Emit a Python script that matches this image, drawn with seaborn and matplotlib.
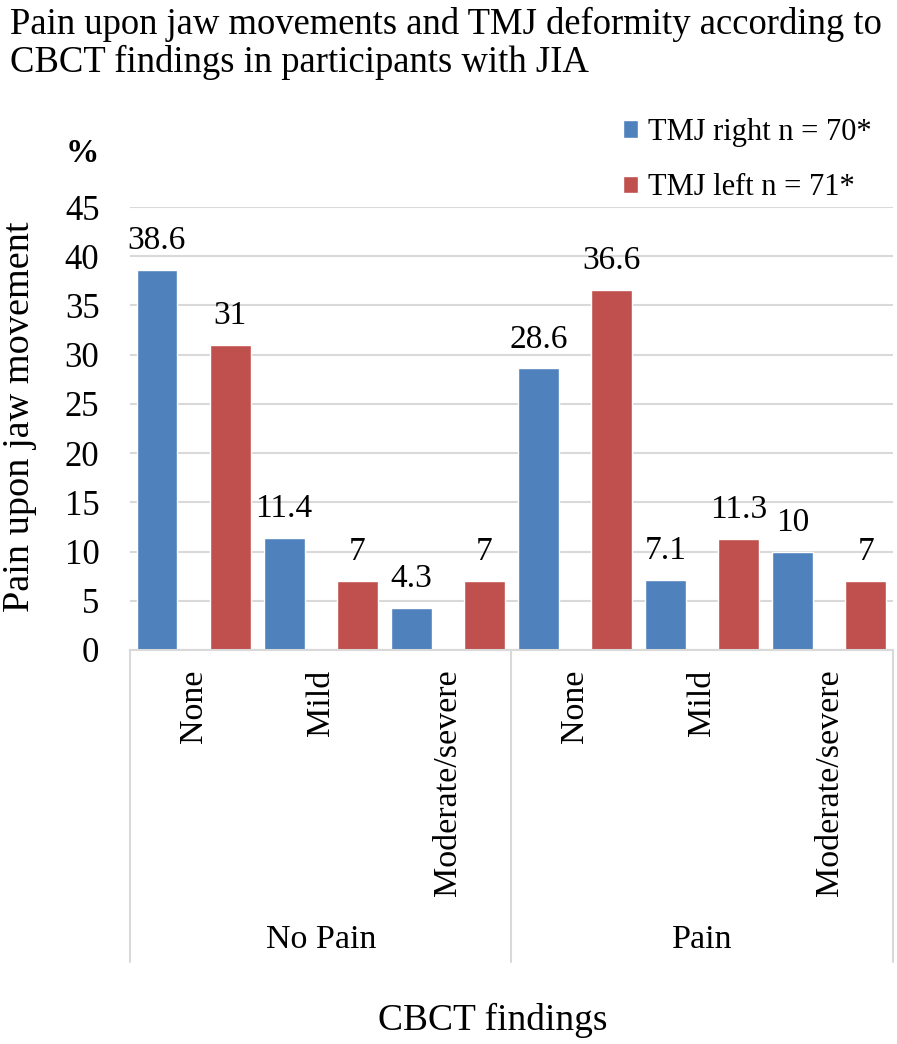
import pandas as pd
import matplotlib
matplotlib.use("Agg")
import matplotlib.pyplot as plt
import seaborn as sns

# Data
pain_groups = ["No Pain", "Pain"]
findings = ["None", "Mild", "Moderate/severe"]
tmj_right = [38.6, 11.4, 4.3, 28.6, 7.1, 10]
tmj_left = [31, 7, 7, 36.6, 11.3, 7]
series_names = ["TMJ right n = 70*", "TMJ left n = 71*"]
colors = ["#4F81BD", "#C0504D"]

cats = [f"{g}|{f}" for g in pain_groups for f in findings]
df = pd.DataFrame({
    "cat": cats * 2,
    "pct": tmj_right + tmj_left,
    "side": [series_names[0]] * len(cats) + [series_names[1]] * len(cats),
})

sns.set_style("white")
plt.rcParams["font.family"] = ["Liberation Serif", "DejaVu Serif"]
for k in ["text.color", "axes.labelcolor", "xtick.color", "ytick.color"]:
    plt.rcParams[k] = "black"

fig = plt.figure(figsize=(8.97, 10.44), dpi=100)
ax = fig.add_axes([0.1449, 0.3774, 0.8506, 0.4243])

sns.barplot(data=df, x="cat", y="pct", hue="side", palette=colors,
            width=1.15, gap=0.44, saturation=1, ax=ax, legend=True)

for cont in ax.containers:
    ax.bar_label(cont, fmt="%g", padding=10, fontsize=24)

ax.set_ylim(0, 45)
ax.set_xlim(-0.5, len(cats) - 0.5)
ax.set_yticks(range(0, 46, 5))
ax.tick_params(axis="y", labelsize=25, length=0, pad=22)
ax.set_xticks(range(len(cats)))
ax.set_xticklabels(findings * 2, rotation=90, va="top", fontsize=24.5)
ax.tick_params(axis="x", length=0, pad=14)
ax.yaxis.grid(True, color="#d9d9d9", lw=1.5)
ax.set_axisbelow(True)
for s in ["top", "right", "left"]:
    ax.spines[s].set_visible(False)
ax.spines["bottom"].set_color("#d9d9d9")
ax.spines["bottom"].set_linewidth(1.5)
ax.set_xlabel("")
ax.set_ylabel("")

# group separators and group labels
trans = ax.get_xaxis_transform()
for xs in [-0.5, 2.5, 5.5]:
    ax.plot([xs, xs], [0, -0.704], transform=trans, color="#d9d9d9",
            lw=1.5, clip_on=False)
for i, g in enumerate(pain_groups):
    ax.text(i * 3 + 1, -0.655, g, transform=trans, ha="center",
            va="center", fontsize=24.5)

fig.text(0.022, 1 - 417 / 1044, "Pain upon jaw movement", fontsize=27.5,
         rotation=90, ha="center", va="center")
fig.text(0.092, 0.853, "%", fontsize=24, fontweight="bold", ha="center", va="center")
fig.text(0.549, 0.023, "CBCT findings", fontsize=27, ha="center", va="center")
fig.text(0.011, 0.993, "Pain upon jaw movements and TMJ deformity according to\n"
         "CBCT findings in participants with JIA", fontsize=26.4, ha="left",
         va="top", linespacing=1.08)

handles, labels = ax.get_legend_handles_labels()
ax.legend(handles, labels, loc="upper left", bbox_to_anchor=(0.664, 0.9135),
          bbox_transform=fig.transFigure, frameon=False, fontsize=22,
          handlelength=0.5, handleheight=0.5, handletextpad=0.33,
          labelspacing=0.86)

fig.savefig("out.png", dpi=100)
